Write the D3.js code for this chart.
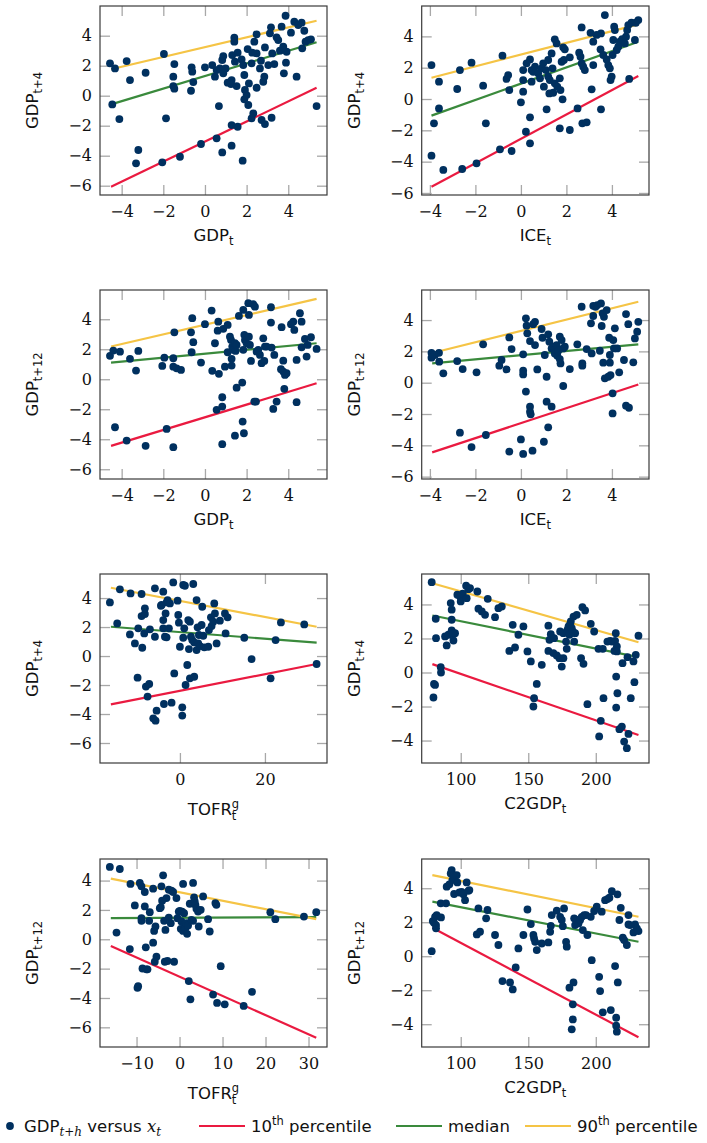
<!DOCTYPE html>
<html><head><meta charset="utf-8">
<script src="https://cdn.jsdelivr.net/npm/d3@7"></script>
<style>body{margin:0;background:#fff}svg{display:block}</style>
</head><body><svg id="c" width="707" height="1143"></svg>
<script>
// ---------- DATA ----------
// Panel 1: GDP_{t+4} vs GDP_t
const p1 = [[-4.56,2.16],[-4.32,1.82],[-3.76,2.31],[-3.60,1.04],[-2.85,1.53],[-1.97,2.78],[-1.47,2.11],[-1.52,1.27],[-1.52,0.64],[-1.47,0.47],[-0.67,0.33],[-0.64,1.89],[-0.61,1.60],[-0.56,0.91],[0.00,1.89],[0.35,2.04],[0.48,1.27],[0.67,-0.69],[0.56,1.71],[0.72,1.82],[0.83,2.38],[0.88,2.64],[0.99,1.82],[0.88,1.49],[1.09,0.87],[1.28,1.04],[1.31,2.71],[1.41,3.87],[1.41,3.60],[1.57,2.87],[1.25,0.78],[1.52,0.64],[1.44,2.27],[1.76,2.42],[1.84,2.04],[1.89,1.38],[1.92,0.38],[1.89,-0.24],[2.00,0.04],[2.08,-0.62],[2.11,0.82],[2.05,3.11],[2.24,2.16],[2.27,2.87],[2.37,3.60],[2.48,4.09],[2.48,2.82],[2.48,0.53],[2.64,1.82],[2.69,2.33],[2.80,0.93],[2.85,1.27],[2.88,3.22],[3.04,2.04],[3.12,4.16],[3.17,4.56],[3.23,2.82],[3.33,2.11],[3.44,3.89],[3.52,3.71],[3.60,3.00],[3.68,4.60],[3.76,3.27],[3.79,1.49],[3.87,5.33],[3.89,2.20],[3.92,2.93],[4.13,4.20],[4.29,4.93],[4.40,1.27],[4.48,4.71],[4.64,4.87],[4.67,3.16],[4.77,4.33],[4.83,3.60],[4.96,3.71],[5.09,3.76],[5.36,-0.69],[2.24,-1.51],[2.32,-1.18],[2.72,-1.62],[2.88,-1.89],[3.20,-1.47],[1.28,-1.96],[1.57,-2.07],[0.56,-2.84],[1.28,-3.33],[0.83,-3.78],[-0.19,-3.22],[-1.20,-4.07],[-2.05,-4.44],[-3.31,-4.51],[-3.20,-3.62],[-4.11,-1.56],[-4.45,-0.58],[-1.87,-1.51],[1.81,-4.33]];
// Panel 2: GDP_{t+4} vs ICE_t
const p2 = [[-3.93,2.17],[-3.60,1.11],[-3.60,-0.60],[-3.82,-1.55],[-3.93,-3.62],[-3.41,-4.53],[-2.80,0.64],[-2.68,1.85],[-2.58,-4.47],[-2.17,2.32],[-1.95,-4.11],[-1.66,0.85],[-1.54,-1.55],[-0.92,-3.21],[-0.81,2.77],[-0.63,1.28],[-0.56,1.53],[-0.51,0.57],[-0.41,-3.32],[0.00,-0.21],[0.10,0.47],[0.22,-2.09],[0.40,-1.17],[0.40,-2.83],[0.10,1.85],[0.10,1.21],[0.25,2.28],[0.40,2.53],[0.47,1.85],[0.47,1.11],[0.54,1.74],[0.62,2.06],[0.76,1.64],[0.84,1.32],[0.91,1.96],[0.98,2.28],[1.01,0.79],[1.10,1.85],[1.13,-0.66],[1.20,1.43],[1.20,2.49],[1.25,0.36],[1.27,1.21],[1.35,2.91],[1.39,1.96],[1.42,0.40],[1.49,1.00],[1.49,3.81],[1.57,3.55],[1.60,0.79],[1.71,1.32],[1.74,0.57],[1.79,2.38],[1.83,-0.02],[1.86,3.30],[1.93,3.17],[1.71,-1.87],[2.15,-1.98],[1.89,2.49],[2.15,2.66],[2.49,-0.60],[2.56,2.96],[2.62,2.70],[2.67,2.28],[2.70,-1.55],[2.74,2.06],[2.81,1.85],[2.89,-1.49],[2.67,4.57],[3.06,4.23],[3.18,2.17],[3.11,0.62],[3.18,3.66],[3.33,4.09],[3.50,3.17],[3.52,4.19],[3.52,-0.66],[3.62,2.81],[3.69,5.36],[3.77,2.53],[3.84,2.17],[3.91,1.96],[3.94,1.21],[3.99,1.43],[4.03,2.81],[4.06,3.77],[4.10,4.62],[4.13,4.40],[4.21,3.13],[4.28,3.34],[4.35,3.66],[4.45,3.83],[4.57,3.55],[4.62,3.98],[4.67,4.40],[4.72,4.72],[4.76,1.28],[4.86,4.87],[5.01,3.77],[5.05,4.87],[5.16,5.04]];
// Panel 3: GDP_{t+12} vs GDP_t
const p3 = [[-4.56,1.56],[-4.40,1.91],[-4.08,1.84],[-3.60,1.36],[-3.31,0.58],[-3.20,1.89],[-4.32,-3.20],[-3.76,-4.09],[-2.85,-4.44],[-1.84,-3.31],[-1.52,-4.53],[-2.05,0.89],[-1.95,1.44],[-1.52,1.40],[-1.52,0.84],[-1.36,0.73],[-1.15,0.62],[-1.47,3.13],[-0.67,3.13],[-0.64,1.80],[-0.56,2.47],[-0.61,4.07],[-0.19,1.11],[0.00,3.67],[0.32,4.58],[0.48,2.40],[0.35,0.56],[0.67,0.36],[0.56,-2.04],[0.83,-1.82],[0.83,-1.20],[0.64,3.84],[0.61,3.24],[0.88,3.36],[0.96,0.84],[1.09,3.62],[1.09,1.80],[1.20,2.84],[1.25,2.62],[1.28,1.36],[1.28,0.91],[1.31,2.18],[1.36,1.96],[1.44,2.40],[1.47,1.89],[1.52,-0.56],[1.52,2.29],[1.63,4.22],[1.79,-0.22],[1.81,-2.82],[1.87,-3.60],[1.44,-3.76],[0.83,-4.33],[1.84,1.96],[1.84,4.62],[1.89,2.96],[1.92,2.62],[2.00,2.40],[2.08,5.07],[2.11,2.84],[2.11,4.29],[2.16,2.29],[2.21,1.22],[2.32,5.00],[2.37,-1.49],[2.45,-1.49],[2.40,4.84],[2.48,1.84],[2.56,1.96],[2.64,1.62],[2.72,1.07],[2.80,2.73],[2.85,1.22],[2.88,2.18],[2.96,2.18],[3.17,4.80],[3.20,2.11],[3.17,3.78],[3.28,-1.98],[3.33,1.62],[3.44,-1.49],[3.65,0.67],[3.68,3.47],[3.76,0.51],[3.76,1.24],[3.81,-0.64],[3.84,0.29],[3.92,0.40],[4.13,3.67],[4.24,3.84],[4.29,3.29],[4.40,1.29],[4.40,-1.53],[4.56,4.40],[4.64,3.84],[4.64,2.13],[4.80,2.69],[4.88,1.51],[4.93,2.29],[5.09,2.80],[5.36,2.02]];
// Panel 4: GDP_{t+12} vs ICE_t
const p4 = [[-3.93,1.91],[-3.93,1.60],[-3.78,1.77],[-3.60,1.91],[-3.59,1.34],[-3.41,0.60],[-2.80,1.38],[-2.56,0.87],[-1.95,0.66],[-2.68,-3.19],[-2.17,-4.11],[-1.54,-3.34],[-1.66,2.45],[-0.95,1.09],[-0.85,1.45],[-0.63,0.85],[-0.51,2.89],[-0.41,2.15],[-0.51,-4.40],[0.00,-3.62],[0.10,-4.55],[0.10,1.81],[0.10,0.77],[0.10,0.53],[0.22,4.11],[0.25,3.64],[0.28,3.15],[0.22,-0.57],[0.40,2.66],[0.40,-1.53],[0.40,-1.85],[0.43,-2.02],[0.51,-4.34],[0.54,3.74],[0.62,3.89],[0.62,2.40],[0.72,0.85],[0.91,3.43],[0.95,2.87],[1.01,-3.77],[1.05,1.77],[1.13,0.38],[1.13,-1.21],[1.20,3.09],[1.20,-2.85],[1.25,2.62],[1.35,-1.53],[1.35,2.19],[1.42,2.30],[1.49,2.09],[1.49,1.87],[1.57,2.40],[1.60,1.72],[1.64,2.04],[1.71,1.51],[1.71,2.94],[1.74,1.23],[1.79,2.72],[1.86,2.19],[1.86,-0.21],[1.93,2.30],[2.15,0.87],[2.48,2.45],[2.67,4.85],[2.70,1.23],[2.70,1.09],[2.89,2.15],[3.08,3.79],[3.11,1.87],[3.18,4.26],[3.18,4.91],[3.28,4.85],[3.36,4.96],[3.47,2.04],[3.52,5.06],[3.55,3.62],[3.59,4.43],[3.62,1.28],[3.65,4.21],[3.69,0.28],[3.77,4.64],[3.84,0.38],[3.88,2.87],[3.91,1.28],[3.91,1.77],[3.94,0.49],[4.03,-0.68],[4.03,-1.96],[4.06,2.72],[4.09,2.19],[4.13,3.47],[4.23,2.19],[4.32,0.66],[4.53,1.45],[4.62,4.38],[4.62,-1.47],[4.72,3.74],[4.75,-1.60],[4.94,1.30],[5.01,2.83],[5.11,3.26],[5.16,3.89]];
// Panel 5: GDP_{t+4} vs TOFR^g_t
const p5 = [[-16.47,3.70],[-14.75,2.25],[-14.12,4.60],[-11.76,1.49],[-11.61,4.32],[-10.59,0.87],[-9.96,-1.49],[-9.80,1.91],[-9.02,4.28],[-9.02,2.76],[-8.86,0.57],[-8.39,1.56],[-8.24,2.90],[-8.24,3.29],[-8.00,-2.11],[-7.61,-2.80],[-7.22,-1.93],[-7.06,1.84],[-6.27,-4.30],[-5.88,4.67],[-5.88,1.33],[-5.73,-4.46],[-5.49,-3.77],[-4.47,3.47],[-4.31,3.52],[-3.92,4.44],[-3.92,2.48],[-3.92,1.91],[-3.76,-3.31],[-3.53,1.33],[-3.37,2.94],[-3.14,3.70],[-3.14,1.29],[-2.90,3.86],[-2.59,1.91],[-2.35,3.63],[-1.96,-3.22],[-1.57,5.08],[-1.33,-1.20],[-0.55,3.82],[-0.39,2.83],[-0.24,2.30],[0.00,0.64],[0.55,-3.54],[0.55,-4.11],[0.78,1.26],[0.78,4.90],[1.02,1.91],[1.18,4.85],[1.33,-2.00],[1.73,-0.62],[1.96,2.48],[2.12,0.48],[2.35,2.37],[2.35,-1.54],[2.59,1.33],[2.90,1.10],[3.14,4.97],[3.37,-1.43],[3.37,0.94],[3.92,3.86],[3.92,0.41],[4.16,1.98],[4.31,0.87],[4.47,1.45],[4.71,0.69],[5.10,2.14],[5.25,3.40],[5.49,1.40],[5.73,0.60],[6.67,0.64],[6.82,1.79],[7.29,2.67],[7.45,2.07],[7.84,2.37],[8.08,3.63],[8.24,2.94],[8.63,0.87],[9.41,2.44],[10.59,2.94],[10.75,1.56],[11.22,2.67],[15.14,1.26],[16.86,-0.21],[21.33,-1.54],[22.51,1.10],[23.76,2.32],[29.25,2.18],[32.16,-0.55]];
// Panel 6: GDP_{t+4} vs C2GDP_t
const p6 = [[78.5,5.31],[81.5,3.16],[81.7,2.02],[80.2,-0.67],[81.0,-0.73],[79.8,-1.47],[85.2,0.31],[85.4,0.00],[88.4,2.12],[89.6,1.59],[90.9,2.22],[92.6,4.08],[93.3,3.69],[93.3,3.10],[93.3,2.47],[94.6,2.31],[94.6,1.88],[95.8,2.31],[97.5,4.57],[99.5,4.47],[100.0,4.18],[101.5,4.63],[104.0,5.10],[104.4,4.37],[105.7,4.90],[106.9,4.96],[112.3,4.76],[113.1,3.75],[115.6,3.59],[118.0,3.39],[120.0,4.33],[125.4,3.25],[127.9,3.78],[130.4,3.88],[136.0,1.27],[138.5,2.80],[140.2,1.47],[142.7,2.22],[146.4,2.71],[149.4,1.24],[151.9,0.65],[153.8,-2.00],[154.3,-1.51],[156.3,-0.67],[160.0,0.45],[164.9,2.75],[164.9,1.27],[165.7,1.92],[166.7,2.25],[168.6,1.14],[169.1,2.02],[171.1,1.00],[173.1,0.84],[173.6,2.41],[174.8,0.35],[176.0,0.84],[176.0,2.31],[178.0,1.82],[178.5,1.39],[179.0,2.51],[179.8,2.71],[180.5,2.22],[181.0,2.84],[181.5,3.00],[182.2,2.61],[183.0,2.41],[183.5,3.29],[184.0,1.82],[184.7,2.31],[185.9,3.39],[189.1,0.84],[190.1,3.84],[190.9,0.51],[192.1,3.65],[193.8,-1.86],[196.3,2.86],[198.8,2.41],[202.0,1.39],[202.5,-3.76],[203.7,-2.84],[205.2,1.39],[205.7,-1.51],[208.6,1.82],[210.6,1.86],[211.9,1.82],[213.8,1.27],[214.3,1.86],[215.1,-0.24],[214.8,2.31],[215.6,1.53],[215.6,1.24],[215.1,-2.06],[216.0,-1.22],[217.5,-3.33],[219.3,-3.18],[219.8,0.55],[221.0,-4.06],[223.0,-4.45],[223.5,0.90],[224.2,-3.61],[225.9,-1.51],[227.9,0.65],[228.6,-0.57],[229.6,1.04],[231.6,2.16]];
// Panel 7: GDP_{t+12} vs TOFR^g_t
const p7 = [[-16.21,4.93],[-13.89,4.79],[-14.66,0.46],[-11.56,-0.67],[-11.41,3.77],[-10.40,2.31],[-9.78,-3.31],[-9.63,-3.20],[-9.24,3.84],[-8.85,3.61],[-8.85,1.44],[-8.85,1.26],[-8.62,-1.99],[-8.08,3.22],[-8.08,2.24],[-7.85,-0.55],[-7.69,-2.05],[-7.46,-2.05],[-7.07,1.26],[-6.92,1.85],[-6.14,-0.23],[-6.14,3.45],[-5.91,0.57],[-5.76,-1.53],[-5.60,0.87],[-5.37,-1.19],[-4.59,2.12],[-4.36,2.19],[-4.21,3.61],[-4.05,2.63],[-3.82,4.36],[-3.59,1.26],[-3.43,-1.53],[-3.28,0.64],[-3.04,2.81],[-2.81,-1.48],[-2.50,3.38],[-2.50,1.48],[-2.04,1.10],[-1.88,3.31],[-1.49,3.22],[-1.26,-1.53],[-0.72,2.81],[-0.49,1.44],[-0.18,1.89],[0.05,1.94],[0.29,0.71],[0.44,1.21],[0.60,1.89],[0.83,3.77],[0.83,0.57],[1.06,1.78],[1.22,1.03],[1.37,0.75],[1.60,1.10],[1.76,0.37],[1.99,0.94],[2.15,-2.85],[2.38,2.42],[2.53,-4.09],[2.77,1.32],[3.15,1.26],[3.15,3.84],[3.38,2.85],[3.54,2.58],[3.69,2.35],[3.93,2.08],[4.31,1.89],[4.47,0.87],[4.93,2.01],[5.48,2.92],[6.64,1.37],[7.02,0.53],[7.80,-3.77],[8.34,2.47],[8.57,2.35],[8.73,-4.34],[9.58,-1.83],[10.51,-4.43],[14.92,-4.54],[16.86,-3.58],[21.12,1.85],[22.28,1.37],[28.94,1.55],[31.80,1.85]];
// Panel 8: GDP_{t+12} vs C2GDP_t
const p8 = [[78.5,0.30],[79.3,2.07],[80.2,1.97],[81.0,2.32],[81.7,1.83],[81.7,1.64],[82.2,2.42],[85.4,2.28],[85.2,3.11],[89.1,3.11],[89.6,4.09],[91.6,4.23],[92.6,4.87],[93.3,5.07],[93.8,4.48],[94.6,4.77],[97.0,4.77],[95.1,3.66],[97.5,4.34],[99.0,3.75],[100.7,3.79],[102.0,3.64],[103.2,3.30],[104.4,4.34],[105.7,3.85],[106.4,3.89],[111.9,1.28],[113.1,2.81],[114.3,1.44],[118.8,2.23],[119.8,2.72],[125.4,1.25],[127.9,0.66],[130.9,-1.46],[136.5,-1.54],[138.5,-1.95],[140.7,-0.66],[142.7,0.46],[146.4,1.25],[149.4,2.75],[151.9,1.89],[153.8,1.25],[154.3,1.05],[155.1,0.85],[156.3,0.36],[160.0,0.75],[164.9,0.81],[166.2,1.44],[166.7,1.79],[167.4,2.42],[171.1,2.68],[173.6,2.32],[174.8,2.13],[175.6,1.77],[176.5,2.81],[178.0,0.85],[178.5,0.56],[180.5,-1.85],[183.5,-1.54],[183.0,-2.83],[183.0,-3.72],[182.2,-4.30],[184.0,2.23],[184.7,1.83],[185.9,2.13],[187.2,1.93],[188.4,2.13],[189.6,2.32],[190.4,1.54],[191.4,2.42],[192.8,2.42],[193.8,1.25],[196.3,2.32],[197.0,-0.23],[198.8,2.66],[200.7,2.91],[202.5,-1.21],[203.2,-2.05],[204.4,2.62],[205.2,-3.30],[206.9,3.30],[208.6,3.36],[210.1,3.44],[211.1,-3.17],[211.9,3.83],[214.3,-0.58],[215.1,-3.62],[216.0,3.64],[215.1,-4.09],[215.6,-4.44],[216.3,-1.54],[217.5,2.13],[218.5,2.85],[220.0,1.09],[221.0,0.95],[223.0,0.66],[224.2,2.42],[224.2,1.87],[225.4,1.83],[227.9,1.40],[229.1,1.87],[230.4,1.64],[231.6,1.48]];

// Quantile regression lines per panel: [x start, x end, y start, y end]
const q10 = [[-4.51,5.36,-6.07,0.53],[-3.93,5.16,-5.60,1.47],[-4.51,5.36,-4.44,-0.27],[-3.90,5.16,-4.45,-0.11],[-16.24,32.16,-3.33,-0.55],[79.0,231.6,0.49,-3.67],[-15.98,31.80,-0.46,-6.71],[79.0,231.6,1.68,-4.77]];
const q50 = [[-4.51,5.36,-0.58,3.56],[-3.93,5.16,-1.06,3.66],[-4.51,5.36,1.11,2.40],[-3.90,5.16,1.23,2.45],[-16.24,32.16,2.02,0.92],[79.0,231.6,3.35,0.90],[-15.98,31.80,1.44,1.51],[79.0,231.6,3.21,0.85]];
const q90 = [[-4.51,5.36,1.76,5.00],[-3.93,5.16,1.36,4.77],[-4.51,5.36,2.18,5.36],[-3.90,5.16,1.90,5.17],[-16.24,32.16,4.71,2.02],[79.0,231.6,5.25,1.78],[-15.98,31.80,4.13,1.37],[79.0,231.6,4.77,2.32]];

// Tick values
const yTicks6 = [-6,-4,-2,0,2,4];
const yTicks4 = [-4,-2,0,2,4];
const xTicksPM4 = [-4,-2,0,2,4];
const xTicksTOFR4 = [0,20];
const xTicksTOFR12 = [-10,0,10,20,30];
const xTicksC2 = [100,150,200];

// Axis labels
const yLabelSub = ["t+4","t+4","t+12","t+12","t+4","t+4","t+12","t+12"];
const xLabelMain = ["GDP","ICE","GDP","ICE","TOFR","C2GDP","TOFR","C2GDP"];

// ---------- LAYOUT ----------
const colX = [[100,327],[421.7,649]];
const rowY = [[6,195],[290,479],[574,763],[859,1047]];
const xDom = [[-5.04,5.86],[-4.36,5.63],[-5.04,5.86],[-4.36,5.63],[-18.8,34.6],[71.1,239.4],[-18.5,34.3],[71.1,239.4]];
const yDom = [[-6.62,5.98],[-6.13,5.94],[-6.65,5.95],[-6.15,5.92],[-7.38,5.66],[-5.32,5.79],[-7.34,5.47],[-5.34,5.72]];
const xTicksAll = [xTicksPM4,xTicksPM4,xTicksPM4,xTicksPM4,xTicksTOFR4,xTicksC2,xTicksTOFR12,xTicksC2];
const yTicksAll = [yTicks6,yTicks6,yTicks6,yTicks6,yTicks6,yTicks4,yTicks6,yTicks4];
const pts = [p1,p2,p3,p4,p5,p6,p7,p8];

const C_DOT = "#00305f", C_RED = "#ea1a40", C_GREEN = "#3a8a3c", C_YEL = "#f5c445";
const SANS = "'DejaVu Sans', sans-serif", SERIF = "'DejaVu Serif', serif";
const svg = d3.select("#c");

pts.forEach((data, i) => {
  const [x0,x1] = colX[i%2];
  const [y0,y1] = rowY[Math.floor(i/2)];
  const x = d3.scaleLinear().domain(xDom[i]).range([x0,x1]);
  const y = d3.scaleLinear().domain(yDom[i]).range([y1,y0]);
  const g = svg.append("g");

  const styleAxis = (sel, withText) => {
    sel.select(".domain").remove();
    sel.selectAll(".tick line").attr("stroke","#a8a8a8").attr("stroke-width",1.3);
    sel.selectAll(".tick text").attr("fill","#111").style("font-family",SERIF).style("font-size","16px");
    if (!withText) sel.selectAll(".tick text").remove();
  };
  g.append("g").attr("transform",`translate(${x0},0)`)
    .call(d3.axisLeft(y).tickValues(yTicksAll[i]).tickSize(-10).tickPadding(8)).call(s=>styleAxis(s,true));
  g.append("g").attr("transform",`translate(${x1},0)`)
    .call(d3.axisRight(y).tickValues(yTicksAll[i]).tickSize(-10)).call(s=>styleAxis(s,false));
  g.append("g").attr("transform",`translate(0,${y1})`)
    .call(d3.axisBottom(x).tickValues(xTicksAll[i]).tickSize(-10).tickPadding(10.5)).call(s=>styleAxis(s,true));
  g.append("g").attr("transform",`translate(0,${y0})`)
    .call(d3.axisTop(x).tickValues(xTicksAll[i]).tickSize(-10)).call(s=>styleAxis(s,false));

  // quantile lines
  [[q10,C_RED],[q50,C_GREEN],[q90,C_YEL]].forEach(([q,c]) => {
    const [a,b,ya,yb] = q[i];
    g.append("line").attr("x1",x(a)).attr("x2",x(b)).attr("y1",y(ya)).attr("y2",y(yb))
      .attr("stroke",c).attr("stroke-width",2.2);
  });
  // points
  g.selectAll("circle.pt").data(data).join("circle").attr("class","pt")
    .attr("cx",d=>x(d[0])).attr("cy",d=>y(d[1])).attr("r",3.9).attr("fill",C_DOT);

  // frame
  g.append("rect").attr("x",x0).attr("y",y0).attr("width",x1-x0).attr("height",y1-y0)
    .attr("fill","none").attr("stroke","#3a3a3a").attr("stroke-width",1.2);

  // y label
  const yl = g.append("text").attr("transform",`translate(${x0-62},${(y0+y1)/2}) rotate(-90)`)
    .attr("text-anchor","middle").style("font-family",SANS).style("font-size","16.5px").attr("fill","#111");
  yl.append("tspan").text("GDP");
  yl.append("tspan").attr("dy",4).style("font-size","11.5px").text(yLabelSub[i]);

  // x label
  const isT = xLabelMain[i]==="TOFR";
  const xl = g.append("text").attr("x",(x0+x1)/2).attr("y",y1+(isT?52:46))
    .attr("text-anchor","middle").style("font-family",SANS).style("font-size","16.5px").attr("fill","#111");
  xl.append("tspan").text(xLabelMain[i]);
  if (isT) {
    xl.append("tspan").attr("dy",-7).style("font-size","11.5px").text("g");
    xl.append("tspan").attr("dx",-7.3).attr("dy",12).style("font-size","11.5px").text("t");
  } else {
    xl.append("tspan").attr("dy",4).style("font-size","11.5px").text("t");
  }
});

// ---------- LEGEND ----------
const LY = 1126;
const lg = svg.append("g").style("font-family",SANS).style("font-size","16.5px").attr("fill","#111");
lg.append("circle").attr("cx",10).attr("cy",LY).attr("r",3.9).attr("fill",C_DOT);
const t1 = lg.append("text").attr("x",24).attr("y",LY+6);
t1.append("tspan").text("GDP");
t1.append("tspan").attr("dy",4).style("font-family",SERIF).style("font-style","italic").style("font-size","12px").text("t+h");
t1.append("tspan").attr("dy",-4).text(" versus ");
t1.append("tspan").style("font-family",SERIF).style("font-style","italic").text("x");
t1.append("tspan").attr("dy",4).style("font-family",SERIF).style("font-style","italic").style("font-size","12px").text("t");
const legItems = [[199,C_RED,"10","th"," percentile"],[396,C_GREEN,"median","",""],[525,C_YEL,"90","th"," percentile"]];
legItems.forEach(([lx,c,a,sup,b]) => {
  lg.append("line").attr("x1",lx).attr("x2",lx+46).attr("y1",LY).attr("y2",LY).attr("stroke",c).attr("stroke-width",2.2);
  const t = lg.append("text").attr("x",lx+52).attr("y",LY+6);
  t.append("tspan").text(a);
  if (sup) {
    t.append("tspan").attr("dy",-7).style("font-size","11.5px").text(sup);
    t.append("tspan").attr("dy",7).text(b);
  }
});
</script>
</body></html>
